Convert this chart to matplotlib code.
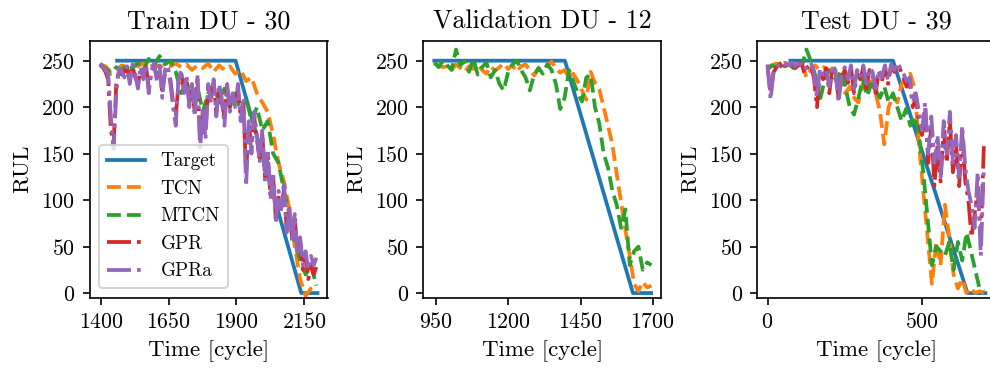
import numpy as np
import matplotlib
matplotlib.use("Agg")
import matplotlib.pyplot as plt

plt.rcParams.update({
    "font.family": "serif",
    "font.serif": ["cmr10", "DejaVu Serif"],
    "mathtext.fontset": "cm",
    "axes.formatter.use_mathtext": True,
    "axes.unicode_minus": False,
    "xtick.labelsize": 10.5,
    "ytick.labelsize": 10.5,
    "axes.labelsize": 11,
    "axes.titlesize": 12.5,
    "legend.fontsize": 9.2,
    "lines.linewidth": 1.8,
})

titles = ["Train DU - 30", "Validation DU - 12", "Test DU - 39"]
series_names = ["Target", "TCN", "MTCN", "GPR", "GPRa"]

# ---- Train DU 30 ----
train_target_t = [1459, 1897, 2140, 2200]
train_target_y = [250, 250, 0, 0]
train_tcn_start, train_tcn_step = 1396, 20
train_tcn = [246, 244, 238, 240, 245, 243, 246, 244, 247, 242, 246, 243, 245, 244,
             247, 243, 246, 240, 245, 242, 247, 238, 245, 240, 244, 236, 240, 228,
             232, 215, 205, 195, 170, 140, 120, 90, 50, 15, -3, 5, 8]
train_mtcn_start, train_mtcn_step = 1396, 20
train_mtcn = [245, 242, 236, 243, 240, 246, 242, 248, 240, 252, 245, 255, 246, 250,
              238, 215, 228, 205, 222, 195, 215, 225, 205, 220, 200, 215, 195, 210,
              185, 200, 175, 185, 150, 140, 110, 85, 55, 35, 20, 30, 8]
train_gpr_start, train_gpr_step = 1396, 10
train_gpr = [246, 243, 238, 230, 175, 160, 225, 240, 235, 238, 242, 230, 244, 232,
             225, 240, 235, 243, 222, 236, 245, 232, 240, 218, 236, 242, 230, 205,
             190, 225, 236, 220, 230, 205, 220, 195, 230, 165, 195, 175, 220, 210,
             225, 195, 220, 205, 190, 220, 200, 210, 205, 218, 190, 205, 130, 180,
             160, 190, 165, 145, 170, 125, 150, 105, 125, 80, 105, 95, 110, 70, 90,
             60, 80, 45, 55, 25, 40, 15, 30, 20, 28]
train_gpra_start, train_gpra_step = 1396, 10
train_gpra = [247, 244, 240, 236, 190, 155, 215, 242, 238, 232, 244, 225, 246, 236,
              220, 244, 230, 246, 215, 240, 247, 228, 245, 210, 240, 245, 225, 200,
              180, 230, 240, 215, 235, 200, 225, 190, 235, 155, 200, 165, 225, 205,
              230, 190, 225, 210, 180, 225, 195, 215, 200, 225, 185, 210, 115, 185,
              150, 195, 170, 140, 175, 120, 155, 100, 130, 75, 110, 90, 120, 65, 95,
              55, 85, 40, 60, 30, 45, 25, 40, 30, 38]

# ---- Validation DU 12 ----
val_target_t = [945, 1396, 1631, 1694]
val_target_y = [250, 250, 0, 0]
val_tcn_start, val_tcn_step = 945, 15
val_tcn = [247, 245, 243, 244, 240, 246, 242, 238, 244, 241, 246, 240, 236, 244,
           239, 243, 247, 241, 245, 238, 244, 246, 240, 234, 242, 246, 244, 249,
           242, 237, 240, 232, 236, 228, 218, 208, 238, 226, 219, 200, 180, 160,
           128, 98, 68, 40, 10, 2, 12, 6, 8]
val_mtcn_start, val_mtcn_step = 945, 15
val_mtcn = [248, 243, 250, 245, 240, 262, 245, 250, 238, 252, 235, 243, 248, 232,
            240, 225, 218, 238, 246, 250, 240, 232, 218, 235, 242, 236, 246, 240,
            225, 198, 210, 240, 228, 215, 206, 232, 235, 200, 182, 150, 135, 110,
            95, 70, 90, 30, 45, 50, 25, 33, 30]

# ---- Test DU 39 ----
test_target_t = [74, 406, 647, 705]
test_target_y = [250, 250, 0, 0]
test_tcn_start, test_tcn_step = 0, 14
test_tcn = [242, 245, 247, 244, 248, 245, 247, 244, 246, 232, 240, 245, 240, 243,
            238, 242, 232, 226, 215, 222, 210, 205, 225, 218, 228, 215, 195, 160,
            200, 212, 205, 225, 232, 236, 220, 160, 110, 60, 10, 55, 30, 95, 60,
            20, 5, 15, 0, 5, 0, 2, 0]
test_mtcn_start, test_mtcn_step = 0, 14
test_mtcn = [240, 245, 243, 247, 244, 246, 242, 248, 245, 262, 250, 235, 205, 225,
             240, 236, 228, 240, 222, 200, 192, 210, 230, 212, 225, 218, 210, 222,
             205, 215, 200, 185, 198, 180, 190, 170, 130, 80, 30, 50, 45, 40, 55,
             25, 55, 35, 65, 45, 25, 5, 2]
test_gpr_start, test_gpr_step = 0, 10
test_gpr = [244, 215, 238, 243, 247, 240, 246, 244, 247, 242, 245, 247, 236, 243,
            246, 232, 200, 238, 230, 242, 215, 243, 236, 210, 232, 240, 226, 243,
            215, 236, 230, 243, 220, 240, 235, 215, 238, 228, 243, 225, 245, 238,
            246, 240, 232, 222, 228, 200, 210, 185, 170, 200, 140, 180, 115, 160,
            120, 175, 140, 185, 130, 160, 115, 170, 120, 100, 60, 85, 110, 60, 158]
test_gpra_start, test_gpra_step = 0, 10
test_gpra = [246, 208, 240, 244, 246, 243, 247, 245, 248, 244, 247, 246, 240, 245,
             248, 238, 210, 242, 235, 240, 222, 245, 240, 205, 235, 243, 230, 245,
             220, 240, 232, 245, 225, 242, 238, 220, 240, 232, 245, 228, 246, 240,
             248, 242, 236, 228, 232, 205, 215, 195, 175, 205, 150, 190, 140, 170,
             125, 185, 150, 195, 140, 170, 125, 180, 135, 110, 95, 70, 130, 40, 135]


def times(start, step, vals):
    return start + step * np.arange(len(vals))


panels = [
    dict(target=(train_target_t, train_target_y),
         preds=[("TCN", train_tcn_start, train_tcn_step, train_tcn),
                ("MTCN", train_mtcn_start, train_mtcn_step, train_mtcn),
                ("GPR", train_gpr_start, train_gpr_step, train_gpr),
                ("GPRa", train_gpra_start, train_gpra_step, train_gpra)],
         xticks=[1400, 1650, 1900, 2150], xlim=(1357, 2237)),
    dict(target=(val_target_t, val_target_y),
         preds=[("TCN", val_tcn_start, val_tcn_step, val_tcn),
                ("MTCN", val_mtcn_start, val_mtcn_step, val_mtcn)],
         xticks=[950, 1200, 1450, 1700], xlim=(907, 1729)),
    dict(target=(test_target_t, test_target_y),
         preds=[("TCN", test_tcn_start, test_tcn_step, test_tcn),
                ("MTCN", test_mtcn_start, test_mtcn_step, test_mtcn),
                ("GPR", test_gpr_start, test_gpr_step, test_gpr),
                ("GPRa", test_gpra_start, test_gpra_step, test_gpra)],
         xticks=[0, 500], xlim=(-33, 737)),
]

styles = {"TCN": ("C1", "--"), "MTCN": ("C2", "--"),
          "GPR": ("C3", "-."), "GPRa": ("C4", "-.")}

W, H = 990, 368
fig = plt.figure(figsize=(W / 150, H / 150), dpi=150)
lefts = [89.5, 423.3, 757.3]
ax_w, ax_top, ax_bot = 238.0, 40.7, 297.7

for i, p in enumerate(panels):
    ax = fig.add_axes([lefts[i] / W, (H - ax_bot) / H, ax_w / W, (ax_bot - ax_top) / H])
    ax.plot(p["target"][0], p["target"][1], color="C0", ls="-", label="Target")
    for name, start, step, vals in p["preds"]:
        c, ls = styles[name]
        ax.plot(times(start, step, vals), vals, color=c, ls=ls, label=name)
    ax.set_xlim(*p["xlim"])
    ax.set_ylim(-5, 271.5)
    ax.set_xticks(p["xticks"])
    ax.set_yticks([0, 50, 100, 150, 200, 250])
    ax.set_title(titles[i])
    ax.set_xlabel("Time [cycle]")
    ax.set_ylabel("RUL")
    if i == 0:
        ax.legend(loc="lower left")

fig.savefig("out.png", dpi=150)
